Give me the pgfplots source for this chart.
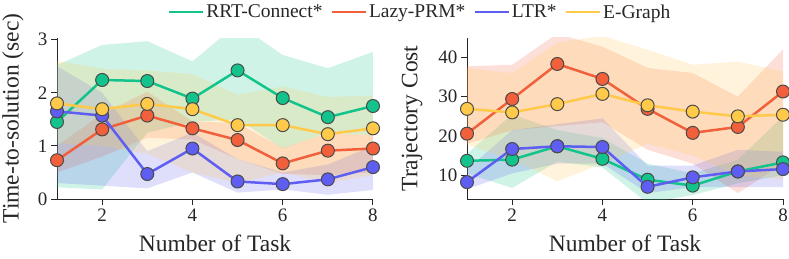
\documentclass[border=0pt]{standalone}
\usepackage{fontspec}
\setmainfont{Liberation Serif}
\usepackage{pgfplots}
\pgfplotsset{compat=1.18}
\usepackage{pgfplotstable}
\usepgfplotslibrary{fillbetween}

\definecolor{cG}{HTML}{12C48B}
\definecolor{cO}{HTML}{F2603B}
\definecolor{cB}{HTML}{5E5EF2}
\definecolor{cY}{HTML}{FFC94A}
\definecolor{edge}{HTML}{4A4A4A}
\definecolor{txt}{HTML}{262626}

% x, mean/lower/upper for RRT-Connect (g), Lazy-PRM (o), LTR (b), E-Graph (y)
\pgfplotstableread{
x gm gl gu om ol ou bm bl bu ym yl yu
1 1.45 0.22 2.52 0.73 0.50 1.00 1.65 0.30 2.50 1.80 1.05 2.60
2 2.24 0.18 2.90 1.31 0.80 1.60 1.57 0.25 2.00 1.69 1.00 2.45
3 2.22 1.25 2.97 1.57 1.15 2.02 0.47 0.20 0.90 1.79 0.85 2.42
4 1.89 1.45 2.59 1.33 1.12 1.46 0.95 0.50 1.25 1.69 0.50 2.35
5 2.42 1.50 3.30 1.11 0.75 1.43 0.33 0.12 0.75 1.39 0.30 1.96
6 1.90 0.95 2.71 0.67 0.47 0.96 0.28 0.18 0.50 1.39 0.50 2.12
7 1.54 1.25 2.46 0.91 0.45 1.24 0.37 0.08 0.65 1.22 0.30 1.92
8 1.75 1.20 2.77 0.95 0.50 1.20 0.60 0.17 1.00 1.33 0.45 1.95
}\timedata

\pgfplotstableread{
x gm gl gu om ol ou bm bl bu ym yl yu
1 13.7 10.5 15.5 20.6 18.0 37.7  8.3  6.5 11.5 26.9 17.8 37.3
2 14.0  6.8 25.5 29.4 21.5 38.1 16.7 10.5 21.5 26.0 14.0 36.0
3 17.4 13.5 21.5 38.3 22.5 46.0 17.4 13.0 23.0 28.1  8.5 43.7
4 14.2 12.0 19.5 34.5 23.5 42.7 17.2 13.0 24.5 30.7 13.0 45.5
5  8.9  3.0 13.0 26.9 16.5 37.3  7.1  5.5 12.5 27.8 18.0 41.9
6  7.4  5.0 10.5 20.8 13.0 36.0  9.5  7.0 12.5 26.2 15.0 38.1
7 11.0  8.0 14.0 22.3  5.5 30.0 11.0  7.0 16.5 25.0 10.0 38.9
8 13.3 10.0 25.0 31.3 13.0 42.0 11.6  7.0 16.0 25.4  9.0 36.4
}\costdata

\newcommand{\band}[5]{% table, lower col, upper col, color, name
  \addplot[name path=#5U, draw=none, forget plot] table[x=x,y=#3]{#1};
  \addplot[name path=#5L, draw=none, forget plot] table[x=x,y=#2]{#1};
  \addplot[fill=#4, fill opacity=0.2, draw=none, forget plot] fill between[of=#5U and #5L];
}
\newcommand{\series}[3]{% table, col, color
  \addplot[color=#3, line width=2.5pt, mark=*, mark size=6.5pt,
    mark options={fill=#3, draw=edge, line width=1pt}] table[x=x,y=#2]{#1};
}

\pgfplotsset{mystyle/.style={
  scale only axis, width=316pt, height=161pt,
  axis x line*=bottom, axis y line*=left,
  axis line style={line width=1pt, color=txt, -},
  tick align=outside, major tick length=6pt,
  tick style={line width=1pt, color=txt},
  xmin=1, xmax=8, xtick={2,4,6,8},
  /pgf/number format/assume math mode=true,
  ticklabel style={font=\fontsize{19}{19}\selectfont, color=txt},
  label style={font=\fontsize{23.5}{23.5}\selectfont, color=txt},
  xlabel style={at={(axis description cs:0.5,-0.329)}, anchor=base, inner sep=0pt},
  clip mode=individual,
  legend image code/.code={\draw[mark repeat=2,mark phase=2] (0pt,0pt) -- (17pt,0pt) -- (34pt,0pt);},
}}

\begin{document}
\begin{tikzpicture}
\begin{axis}[mystyle, at={(57pt,59pt)}, anchor=south west,
  ymin=0, ymax=3.03, ytick={0,1,2,3},
  xlabel={Number of Task}, ylabel={Time-to-solution (sec)},
  ylabel style={at={(axis description cs:-0.139,0.5)}, anchor=center},
  legend style={at={(axis description cs:1.149,1.161)}, anchor=center,
    legend columns=4, draw=none, fill=none,
    font=\fontsize{19.5}{19.5}\selectfont, text=txt,
    /tikz/every even column/.style={column sep=6pt}},
]
\series{\timedata}{gm}{cG}
\band{\timedata}{gl}{gu}{cG}{g}
\series{\timedata}{om}{cO}
\band{\timedata}{ol}{ou}{cO}{o}
\series{\timedata}{bm}{cB}
\band{\timedata}{bl}{bu}{cB}{b}
\series{\timedata}{ym}{cY}
\band{\timedata}{yl}{yu}{cY}{y}
\legend{RRT-Connect*, Lazy-PRM*, LTR*, E-Graph}
\end{axis}
\begin{axis}[mystyle, at={(467pt,59pt)}, anchor=south west,
  ymin=4, ymax=44.9, ytick={10,20,30,40},
  xlabel={Number of Task}, ylabel={Trajectory Cost},
  ylabel style={at={(axis description cs:-0.174,0.5)}, anchor=center},
]
\series{\costdata}{gm}{cG}
\band{\costdata}{gl}{gu}{cG}{g}
\series{\costdata}{om}{cO}
\band{\costdata}{ol}{ou}{cO}{o}
\series{\costdata}{bm}{cB}
\band{\costdata}{bl}{bu}{cB}{b}
\series{\costdata}{ym}{cY}
\band{\costdata}{yl}{yu}{cY}{y}
\end{axis}
\pgfresetboundingbox
\path[use as bounding box] (0,0) rectangle (789pt,258pt);
\end{tikzpicture}
\end{document}
